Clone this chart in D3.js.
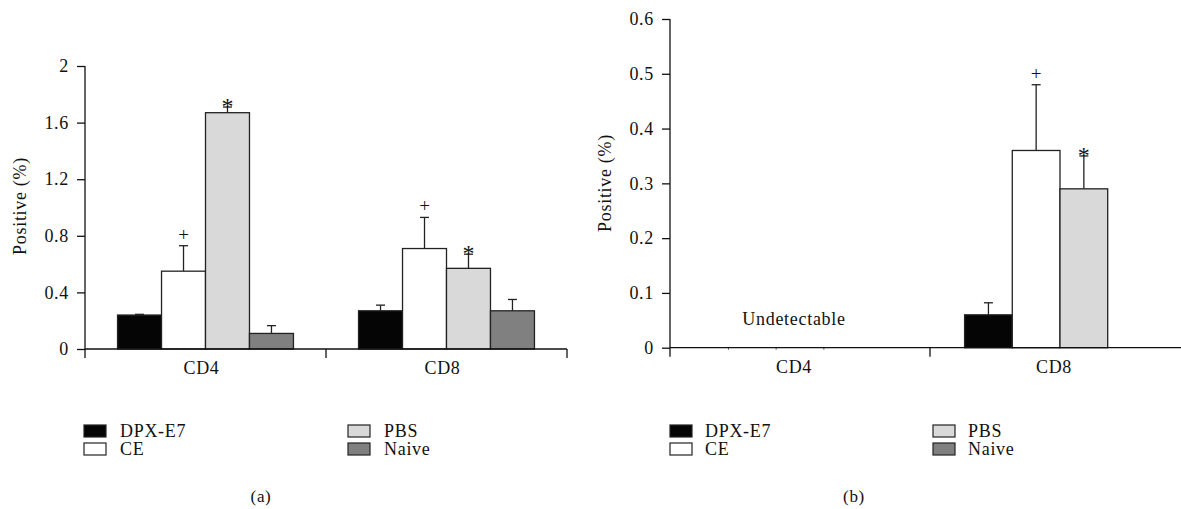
<!DOCTYPE html>
<html><head><meta charset="utf-8">
<script src="https://cdn.jsdelivr.net/npm/d3@7"></script>
</head>
<body style="margin:0;padding:0;background:#fff"><svg id="c" width="1181" height="509"></svg>
<script>
const categories = ["CD4", "CD8"];
const series = ["DPX-E7", "CE", "PBS", "Naive"];
const colors = ["#050505", "#ffffff", "#d9d9d9", "#808080"];
// panel (a)
const aValues = [[0.24, 0.55, 1.67, 0.11], [0.27, 0.71, 0.57, 0.27]];
const aErrors = [[0.005, 0.18, 0.04, 0.055], [0.04, 0.22, 0.10, 0.08]];
const aMarks  = [["", "+", "*", ""], ["", "+", "*", ""]];
const aTicks  = [0, 0.4, 0.8, 1.2, 1.6, 2];
const aTickLabels = ["0", "0.4", "0.8", "1.2", "1.6", "2"];
// panel (b): CD4 undetectable
const bValues = [[null, null, null, null], [0.06, 0.36, 0.29, null]];
const bErrors = [[0, 0, 0, 0], [0.022, 0.12, 0.06, 0]];
const bMarks  = [["", "", "", ""], ["", "+", "*", ""]];
const bTicks  = [0, 0.1, 0.2, 0.3, 0.4, 0.5, 0.6];
const bTickLabels = ["0", "0.1", "0.2", "0.3", "0.4", "0.5", "0.6"];

const FONT = '"Liberation Serif"';
const svg = d3.select("#c");

function txt(sel, size, ls) {
  return sel.style("font-family", FONT).style("font-size", size + "px")
    .style("letter-spacing", (ls === undefined ? 0.7 : ls) + "px").attr("fill", "#111");
}

function panel(cfg) {
  const g = svg.append("g");
  const y = d3.scaleLinear().domain(cfg.ydom).range([cfg.y0, cfg.y1]);
  const x0 = d3.scaleBand().domain(categories).range([cfg.xl, cfg.xr]).padding(0);
  const x1 = d3.scaleBand().domain(series).range([0, x0.bandwidth()]).paddingInner(0).paddingOuter(cfg.po);

  // y axis
  const yAxis = d3.axisLeft(y).tickValues(cfg.ticks).tickFormat((d, i) => cfg.tickLabels[i])
    .tickSizeOuter(0).tickSize(8).tickPadding(cfg.tp);
  const ya = g.append("g").attr("transform", `translate(${cfg.xl},0)`).call(yAxis);
  ya.attr("font-family", null).attr("font-size", null);
  ya.select(".domain").remove();
  ya.selectAll(".tick line").attr("stroke", "#111").attr("stroke-width", 1.3);
  txt(ya.selectAll(".tick text"), 18, 0.7);
  g.append("line").attr("x1", cfg.xl).attr("x2", cfg.xl).attr("y1", y(cfg.ydom[1])).attr("y2", cfg.y0 + 9)
    .attr("stroke", "#111").attr("stroke-width", 1.3);

  // bars
  categories.forEach((c, ci) => {
    series.forEach((s, si) => {
      const v = cfg.values[ci][si];
      const bx = x0(c) + x1(s);
      if (v === null) {
        if (cfg.minor && ci === 0 && si < 3) {
          g.append("line").attr("x1", bx + x1.bandwidth() / 2).attr("x2", bx + x1.bandwidth() / 2)
            .attr("y1", y(0)).attr("y2", y(0) + 2).attr("stroke", "#555").attr("stroke-width", 1);
        }
        return;
      }
      const e = cfg.errors[ci][si];
      const cx = bx + x1.bandwidth() / 2;
      g.append("line").attr("x1", cx).attr("x2", cx).attr("y1", y(v)).attr("y2", y(v + e))
        .attr("stroke", "#222").attr("stroke-width", 1.3);
      g.append("line").attr("x1", cx - 4.5).attr("x2", cx + 4.5).attr("y1", y(v + e)).attr("y2", y(v + e))
        .attr("stroke", "#222").attr("stroke-width", 1.3);
      g.append("rect").attr("x", bx).attr("y", y(v)).attr("width", x1.bandwidth()).attr("height", y(0) - y(v))
        .attr("fill", colors[si]).attr("stroke", "#222").attr("stroke-width", 1.3);
      const m = cfg.marks[ci][si];
      if (m === "+") {
        txt(g.append("text"), 19, 0).attr("x", cx).attr("y", y(v + e) - 5).attr("text-anchor", "middle").text("+");
      } else if (m === "*") {
        txt(g.append("text"), 24, 0).attr("x", cx).attr("y", y(v + e) + 7).attr("text-anchor", "middle").text("*");
      }
    });
  });

  // x axis
  g.append("line").attr("x1", cfg.xl).attr("x2", Math.min(cfg.xr, 1181)).attr("y1", y(0)).attr("y2", y(0))
    .attr("stroke", "#111").attr("stroke-width", 1.3);
  const bounds = [x0(categories[1]), cfg.xr];
  bounds.forEach(b => {
    if (b <= 1181) g.append("line").attr("x1", b).attr("x2", b).attr("y1", y(0)).attr("y2", y(0) + 9)
      .attr("stroke", "#111").attr("stroke-width", 1.3);
  });
  categories.forEach(c => {
    txt(g.append("text"), 18).attr("x", x0(c) + x0.bandwidth() / 2 - cfg.lblShift).attr("y", cfg.y0 + 25)
      .attr("text-anchor", "middle").text(c);
  });

  // y title
  txt(g.append("text"), 18).attr("transform", `translate(${cfg.titleX},${cfg.titleY}) rotate(-90)`)
    .attr("text-anchor", "middle").text("Positive (%)");

  if (cfg.undet) {
    txt(g.append("text"), 18).attr("x", cfg.undet[0]).attr("y", cfg.undet[1]).attr("text-anchor", "middle")
      .text("Undetectable");
  }

  // legend
  series.forEach((s, si) => {
    const col = Math.floor(si / 2), row = si % 2;
    const lx = cfg.legX[col], ly = 425 + row * 18;
    g.append("rect").attr("x", lx).attr("y", ly).attr("width", 22).attr("height", 12)
      .attr("fill", colors[si]).attr("stroke", "#222").attr("stroke-width", 1.2);
    txt(g.append("text"), 18).attr("x", lx + cfg.legGap).attr("y", ly + 12).text(s);
  });
  txt(g.append("text"), 17).attr("x", cfg.capX).attr("y", 502).attr("text-anchor", "middle").text(cfg.cap);
}

panel({ ydom: [0, 2], y0: 349, y1: 66, xl: 85, xr: 567, po: 0.74, tp: 8, ticks: aTicks, tickLabels: aTickLabels,
  values: aValues, errors: aErrors, marks: aMarks, titleX: 26, titleY: 206, lblShift: 4,
  legX: [84, 348], legGap: 36, cap: "(a)", capX: 261 });
panel({ ydom: [0, 0.6], y0: 347.7, y1: 19, xl: 670, xr: 1190, po: 0.725, tp: 8, ticks: bTicks, tickLabels: bTickLabels,
  values: bValues, errors: bErrors, marks: bMarks, titleX: 611, titleY: 183, lblShift: 6, minor: true,
  undet: [794, 325], legX: [670, 933], legGap: 35, cap: "(b)", capX: 854 });
</script></body></html>
